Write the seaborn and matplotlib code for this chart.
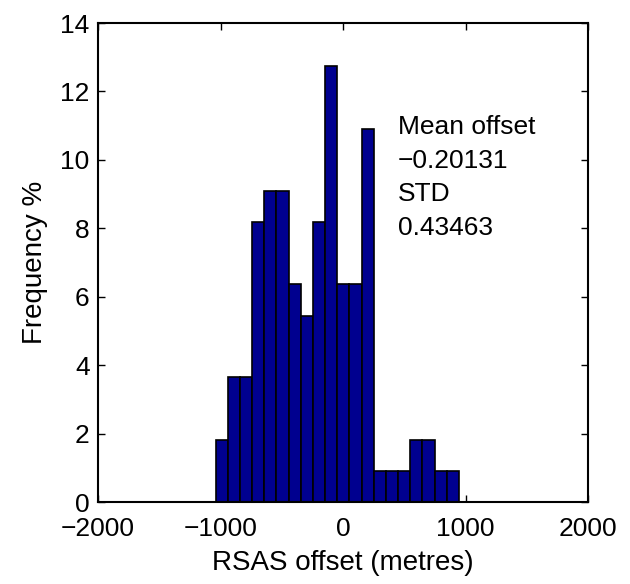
import numpy as np
import pandas as pd
import seaborn as sns
import matplotlib.pyplot as plt

# Histogram bins (metres) and frequency in percent
bin_edges = list(np.linspace(-1041, 946, 21))
freq_pct = [1.82, 3.64, 3.64, 8.18, 9.09, 9.09, 6.36, 5.45, 8.18, 12.73,
            6.36, 6.36, 10.91, 0.91, 0.91, 0.91, 1.82, 1.82, 0.91, 0.91]
x_ticks = [-2000, -1000, 0, 1000, 2000]
x_tick_labels = ["\u22122000", "\u22121000", "0", "1000", "2000"]
y_ticks = [0, 2, 4, 6, 8, 10, 12, 14]
stats_text = "Mean offset\n\u22120.20131\nSTD\n0.43463"

sns.set_style("ticks")
plt.rcParams["font.family"] = ["Liberation Sans", "DejaVu Sans"]
# MATLAB-like look: pure black text, ticks and frame
for key in ["text.color", "axes.labelcolor", "xtick.color", "ytick.color",
            "axes.edgecolor"]:
    plt.rcParams[key] = "black"

edges = np.array(bin_edges)
centers = (edges[:-1] + edges[1:]) / 2
df = pd.DataFrame({"offset": centers, "pct": freq_pct})

fig = plt.figure(figsize=(6.3, 5.84), dpi=100)
ax = fig.add_axes([0.1556, 0.1404, 0.7778, 0.8202])

sns.histplot(data=df, x="offset", weights="pct", bins=bin_edges, ax=ax,
             color="#00008f", alpha=1, edgecolor="black", linewidth=1.2)

ax.set_xlim(-2000, 2000)
ax.set_ylim(0, 14)
ax.set_xticks(x_ticks)
ax.set_xticklabels(x_tick_labels)
ax.set_yticks(y_ticks)
ax.tick_params(direction="in", top=True, right=True, labelsize=19,
               length=5, width=1)
ax.tick_params(axis="x", pad=11)
ax.tick_params(axis="y", pad=6)
for s in ax.spines.values():
    s.set_visible(True)
    s.set_linewidth(1.5)

ax.set_xlabel("RSAS offset (metres)", fontsize=20, labelpad=6)
ax.set_ylabel("Frequency %", fontsize=20, labelpad=9)

ax.text(450, 11.3, stats_text, fontsize=19, va="top", ha="left",
        linespacing=1.5)

fig.savefig("out.png", dpi=100)
